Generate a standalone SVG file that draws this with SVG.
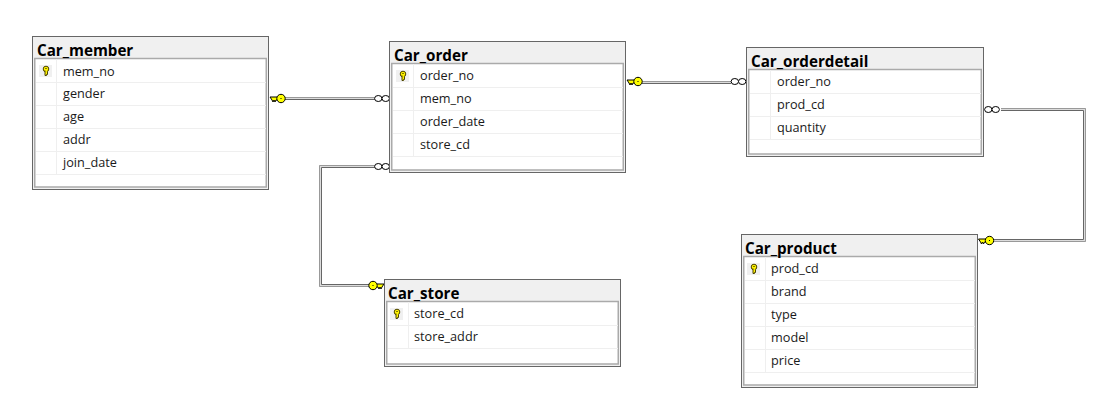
<svg xmlns="http://www.w3.org/2000/svg" width="1112" height="414" viewBox="0 0 1112 414">
<style>
text{font-family:"Open Sans","Noto Sans","Liberation Sans",sans-serif;fill:#1a1a1a}
.t{font-size:15.2px;font-weight:700;fill:#000}
.r{font-size:12.7px}
.o{fill:#f0f0f0;stroke:#666;stroke-width:1}
.i{fill:#fff;stroke:#aaa;stroke-width:1.500}
.g{stroke:#efefef;stroke-width:1}
.c0{fill:none;stroke:#dcdcdc;stroke-width:3}
.c1{fill:none;stroke:#999;stroke-width:1}
.c2{fill:none;stroke:#666;stroke-width:1}
.inf{fill:#fff;stroke:#000;stroke-width:1}
.pk{fill:#f0f0f0}
</style>
<defs>
<g id="rk"><rect x="-7" y="-6" width="13" height="12" class="pk"/><circle cx="0" cy="-2" r="2.800" fill="#fff200" stroke="#4a4300" stroke-width="1"/><path d="M-1-.5V4.500H.5V3.500H1.500V.5" fill="#fff200" stroke="#4a4300" stroke-width="1"/><rect x="-.5" y="-3" width="1" height="1" fill="#000"/></g>
<g id="ck"><path d="M-11 -1.500H-3V1.500H-5L-6 3.500-7 1.500-8 3.500-9 1.500Z" fill="#ffff00" stroke="#000" stroke-width="1"/><circle cx="0" cy="0" r="4.200" fill="#ffff00" stroke="#000" stroke-width="1"/><rect x="-.5" y="-.5" width="1" height="1" fill="#000"/></g>
<g id="inf"><ellipse cx="-3.700" cy="0" rx="3.700" ry="3" class="inf"/><ellipse cx="3.700" cy="0" rx="3.700" ry="3" class="inf"/></g>
</defs>

<g id="connectors">
<path class="c0" d="M285 98.500H375"/><path class="c1" d="M285 97.500H375"/><path class="c2" d="M285 99.500H375"/>
<path class="c0" d="M375 166.500H320.500V285.500H369"/><path class="c1" d="M375 165.500H319.500V286.500H369"/><path class="c2" d="M375 167.500H321.500V284.500H369"/>
<path class="c0" d="M642 82.500H731"/><path class="c1" d="M642 81.500H731"/><path class="c2" d="M642 83.500H731"/>
<path class="c0" d="M1001 109.500H1084.500V240.500H994"/><path class="c1" d="M1001 108.500H1085.500V241.500H994"/><path class="c2" d="M1001 110.500H1083.500V239.500H994"/>
<use href="#ck" transform="translate(281 98.500)"/>
<use href="#inf" transform="translate(382 98.500)"/>
<use href="#inf" transform="translate(382 166.500)"/>
<use href="#ck" transform="translate(373 285.500) scale(-1 1)"/>
<use href="#ck" transform="translate(638 81.500)"/>
<use href="#inf" transform="translate(738.500 81.500)"/>
<use href="#inf" transform="translate(992 109.500)"/>
<use href="#ck" transform="translate(989.500 240.500)"/>
</g>

<g id="car_member">
<rect class="o" x="32.500" y="36.500" width="236" height="153"/>
<rect class="i" x="34.750" y="58.500" width="231.500" height="128.500"/>
<path class="g" d="M36 82.500H266M36 105.500H266M36 128.500H266M36 151.500H266M36 174.500H266M56.500 59V174"/>
<use href="#rk" transform="translate(46 71)"/>
<text class="t" x="37" y="56">Car_member</text>
<text class="r" x="63" y="76">mem_no</text><text class="r" x="63" y="98">gender</text><text class="r" x="63" y="121">age</text><text class="r" x="63" y="144">addr</text><text class="r" x="63" y="167">join_date</text>
</g>

<g id="car_order">
<rect class="o" x="389.500" y="41.500" width="236" height="131"/>
<rect class="i" x="391.750" y="63.500" width="231.500" height="106.500"/>
<path class="g" d="M393 87.500H623M393 110.500H623M393 133.500H623M393 156.500H623M413.500 64V157"/>
<use href="#rk" transform="translate(403 76)"/>
<text class="t" x="394" y="61">Car_order</text>
<text class="r" x="420" y="80">order_no</text><text class="r" x="420" y="103">mem_no</text><text class="r" x="420" y="126">order_date</text><text class="r" x="420" y="149">store_cd</text>
</g>

<g id="car_orderdetail">
<rect class="o" x="746.500" y="47.500" width="237" height="109"/>
<rect class="i" x="748.750" y="69.500" width="232.500" height="84.500"/>
<path class="g" d="M750 93.500H981M750 116.500H981M750 139.500H981M770.500 70V140"/>
<text class="t" x="751" y="67">Car_orderdetail</text>
<text class="r" x="777" y="86">order_no</text><text class="r" x="777" y="109">prod_cd</text><text class="r" x="777" y="132">quantity</text>
</g>

<g id="car_store">
<rect class="o" x="384.500" y="279.500" width="236" height="87"/>
<rect class="i" x="386.750" y="301.500" width="231.500" height="62.500"/>
<path class="g" d="M388 325.500H618M388 348.500H618M408.500 302V349"/>
<use href="#rk" transform="translate(397 314)"/>
<text class="t" x="388" y="299">Car_store</text>
<text class="r" x="414" y="318">store_cd</text><text class="r" x="414" y="341">store_addr</text>
</g>

<g id="car_product">
<rect class="o" x="741.500" y="234.500" width="236" height="153"/>
<rect class="i" x="743.750" y="256.500" width="231.500" height="128.500"/>
<path class="g" d="M745 280.500H975M745 303.500H975M745 326.500H975M745 349.500H975M745 372.500H975M765.500 257V373"/>
<use href="#rk" transform="translate(754 269)"/>
<text class="t" x="745" y="254">Car_product</text>
<text class="r" x="771" y="273">prod_cd</text><text class="r" x="771" y="296">brand</text><text class="r" x="771" y="319">type</text><text class="r" x="771" y="342">model</text><text class="r" x="771" y="365">price</text>
</g>
</svg>
